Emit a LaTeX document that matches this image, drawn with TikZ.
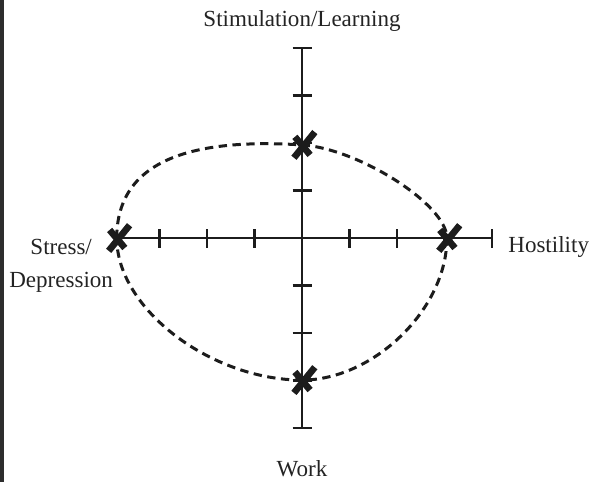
\documentclass[tikz,border=0pt]{standalone}
\usepackage{fontspec}
\setmainfont{Liberation Serif}
\usepackage{tikz}
\usetikzlibrary{positioning, calc}
\definecolor{myink}{RGB}{28,28,28}
\definecolor{mytext}{RGB}{35,35,35}
\definecolor{myedge}{RGB}{45,45,45}
\tikzset{
  axisline/.style={line width=1.2pt, color=myink},
  tickmark/.style={line width=1.3pt, color=myink},
  loopline/.style={line width=1.8pt, color=myink, dash pattern=on 5pt off 3.3pt},
  lbl/.style={font=\fontsize{13.8}{20.4}\selectfont, text=mytext, inner sep=0pt},
  xmark/.pic={
    \draw[line width=4pt, color=myink] (0.27,0.27) -- (-0.17,-0.27);
    \draw[line width=4pt, color=myink] (-0.15,0.17) -- (0.17,-0.21);
  }
}

\begin{document}
\begin{tikzpicture}
  \useasboundingbox (-6.358,-5.137) rectangle (6.189,5.011);
  % ── dark edge on the left ──────────────────────────────────────────────
  \fill[myedge] (-6.358,-5.137) rectangle (-6.274,5.011);

  % ── points on the loop ─────────────────────────────────────────────────
  \coordinate (stim) at (0,1.96);
  \coordinate (host) at (3.05,0);
  \coordinate (work) at (0,-2.99);
  \coordinate (depr) at (-3.9,0);

  % ── dashed loop through the four points ───────────────────────────────
  \draw[loopline] (depr) .. controls +(0,1.7) and +(-2.2,0.14) .. (stim)
    .. controls +(1.2,-0.08) and +(0,0.7) .. (host)
    .. controls +(0,-1.5) and +(1.5,0) .. (work)
    .. controls +(-1.9,0) and +(0,-1.5) .. (depr);

  % ── axes with ticks ────────────────────────────────────────────────────
  \draw[axisline] (-3.9,0) -- (4,0);
  \draw[axisline] (0,-4) -- (0,4);
  \foreach \i in {-3,-2,-1,1,2,3,4}
    \draw[tickmark] (\i,-0.2) -- (\i,0.2);
  \foreach \j in {-4,-3,-2,-1,1,2,3,4}
    \draw[tickmark] (-0.2,\j) -- (0.2,\j);

  % ── crosses ────────────────────────────────────────────────────────────
  \foreach \p in {stim, host, work, depr}
    \pic at (\p) {xmark};

  % ── labels ─────────────────────────────────────────────────────────────
  \node[lbl, anchor=base] (stimlbl) at (0,4.46) {Stimulation/Learning};
  \node[lbl, anchor=base] (worklbl) at (0,-5.03) {Work};
  \node[lbl, anchor=base west] (hostlbl) at (4.337,-0.295) {Hostility};
  \node[lbl, anchor=base] (stresslbl) at (-5.07,-0.337) {Stress/};
  \node[lbl, anchor=base] (deprlbl) at (-5.07,-1.05) {Depression};
\end{tikzpicture}
\end{document}
